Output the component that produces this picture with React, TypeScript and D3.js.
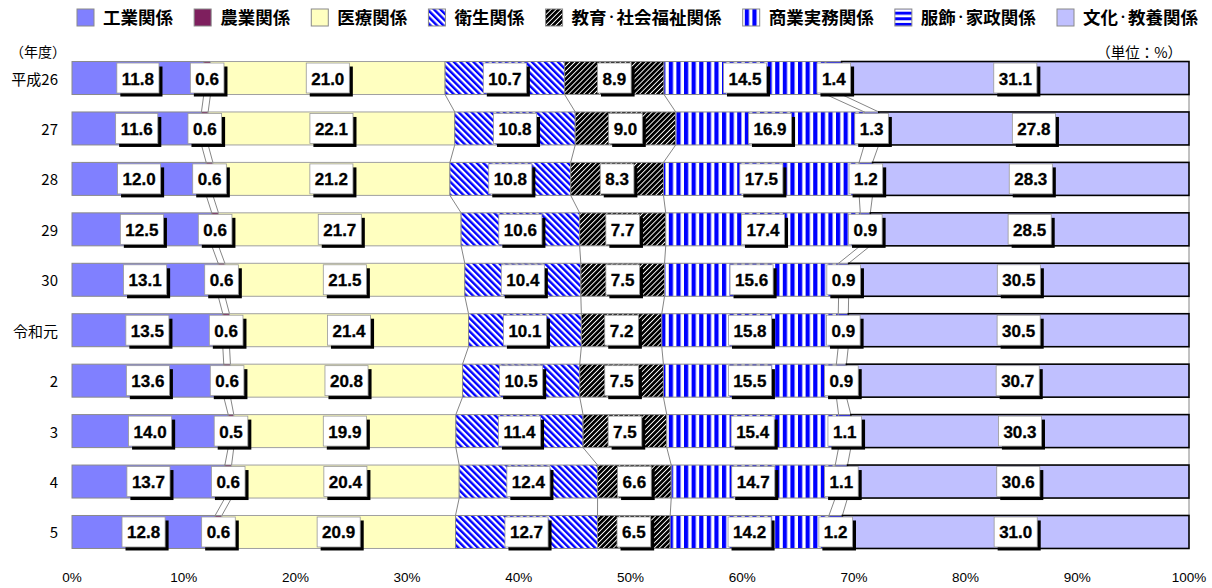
import React from 'react';
import * as d3 from 'd3';

const categories = ['平成26', '27', '28', '29', '30', '令和元', '2', '3', '4', '5'];
const seriesNames = ['工業関係', '農業関係', '医療関係', '衛生関係', '教育・社会福祉関係', '商業実務関係', '服飾・家政関係', '文化・教養関係'];
const kogyo = [11.8, 11.6, 12.0, 12.5, 13.1, 13.5, 13.6, 14.0, 13.7, 12.8];
const nogyo = [0.6, 0.6, 0.6, 0.6, 0.6, 0.6, 0.6, 0.5, 0.6, 0.6];
const iryo = [21.0, 22.1, 21.2, 21.7, 21.5, 21.4, 20.8, 19.9, 20.4, 20.9];
const eisei = [10.7, 10.8, 10.8, 10.6, 10.4, 10.1, 10.5, 11.4, 12.4, 12.7];
const kyoiku = [8.9, 9.0, 8.3, 7.7, 7.5, 7.2, 7.5, 7.5, 6.6, 6.5];
const shogyo = [14.5, 16.9, 17.5, 17.4, 15.6, 15.8, 15.5, 15.4, 14.7, 14.2];
const fukushoku = [1.4, 1.3, 1.2, 0.9, 0.9, 0.9, 0.9, 1.1, 1.1, 1.2];
const bunka = [31.1, 27.8, 28.3, 28.5, 30.5, 30.5, 30.7, 30.3, 30.6, 31.0];
const xTicks = [0, 10, 20, 30, 40, 50, 60, 70, 80, 90, 100];

const seriesValues = [kogyo, nogyo, iryo, eisei, kyoiku, shogyo, fukushoku, bunka];

// styles
const fills = ['#8080FF', '#7E1F5E', '#FFFFC0', 'url(#pDiagBlue)', 'url(#pDiagBlack)', 'url(#pVert)', 'url(#pHoriz)', '#C0C0FF'];
const strokes = ['#8a8a8a', '#8a8a8a', '#a0a0a0', '#8a8a8a', '#8a8a8a', '#8a8a8a', '#8a8a8a', '#000000'];
const strokeW = [1, 1, 1, 1, 1, 1, 1, 1.6];

const W = 1212;
const H = 588;
const LABEL_FONT = 'bold 17px "Liberation Sans", Arial, sans-serif';
const LEGEND_SIZE = 17.5;
const LEGEND_FONT = `bold ${LEGEND_SIZE}px "Noto Sans CJK JP", sans-serif`;
const DOT_SIZE = 10;
const DOT_FONT = `bold ${DOT_SIZE}px "Noto Sans CJK JP", sans-serif`;
const DOT_DY = -2.8;

let ctx: CanvasRenderingContext2D | null = null;
function measure(text: string, font: string): number {
  if (!ctx) ctx = document.createElement('canvas').getContext('2d');
  if (!ctx) return text.length * 9;
  ctx.font = font;
  return ctx.measureText(text).width;
}

function legendWidth(s: string) {
  const parts = s.split('・');
  let w = 0;
  parts.forEach((p, i) => {
    if (i > 0) w += measure('・', DOT_FONT);
    w += measure(p, LEGEND_FONT);
  });
  return w;
}

function legendText(s: string) {
  const parts = s.split('・');
  const out: React.ReactNode[] = [];
  parts.forEach((p, i) => {
    if (i > 0) {
      out.push(
        <tspan key={'d' + i} dy={DOT_DY} style={{ font: DOT_FONT }}>
          ・
        </tspan>
      );
      out.push(
        <tspan key={'p' + i} dy={-DOT_DY}>
          {p}
        </tspan>
      );
    } else {
      out.push(<tspan key={'p' + i}>{p}</tspan>);
    }
  });
  return out;
}

export default function App() {
  const rows = categories.map((c, i) => {
    const o: any = { cat: c };
    seriesNames.forEach((s, k) => (o[s] = seriesValues[k][i]));
    return o;
  });
  const stacked = d3.stack<any>().keys(seriesNames).offset(d3.stackOffsetExpand)(rows);

  const x = d3.scaleLinear().domain([0, 1]).range([72, 1189]);
  const y = d3.scaleBand<string>().domain(categories).range([52.8, 557.2]).paddingInner(0.346).paddingOuter(0.173);
  const bw = y.bandwidth();

  // legend layout
  const sq = 17;
  const sqGap = 9;
  const textWs = seriesNames.map((s) => legendWidth(s));
  const legStart = 77;
  const legEnd = 1198;
  const fixed = textWs.reduce((a, b) => a + b, 0) + seriesNames.length * (sq + sqGap);
  const itemGap = (legEnd - legStart - fixed) / (seriesNames.length - 1);
  const legPos: number[] = [];
  let cur = legStart;
  seriesNames.forEach((s, k) => {
    legPos.push(cur);
    cur += sq + sqGap + textWs[k] + itemGap;
  });

  const boundaries: { x1: number; y1: number; x2: number; y2: number }[] = [];
  for (let i = 0; i < categories.length - 1; i++) {
    stacked.forEach((layer) => {
      const a = layer[i][1];
      const b = layer[i + 1][1];
      boundaries.push({
        x1: x(a),
        y1: (y(categories[i]) as number) + bw,
        x2: x(b),
        y2: y(categories[i + 1]) as number,
      });
    });
  }

  return (
    <svg width={W} height={H} style={{ position: 'absolute', left: 0, top: 0, background: '#fff' }}>
      <defs>
        <pattern id="pDiagBlue" patternUnits="userSpaceOnUse" width={4.6} height={4.6} patternTransform="rotate(-45)">
          <rect width={4.6} height={4.6} fill="#fff" />
          <rect width={2.4} height={4.6} fill="#0000FF" />
        </pattern>
        <pattern id="pDiagBlack" patternUnits="userSpaceOnUse" width={3.6} height={3.6} patternTransform="rotate(45)">
          <rect width={3.6} height={3.6} fill="#000" />
          <rect width={0.9} height={3.6} fill="#fff" />
        </pattern>
        <pattern id="pVert" patternUnits="userSpaceOnUse" width={7.6} height={8}>
          <rect width={7.6} height={8} fill="#fff" />
          <rect width={4.2} height={8} fill="#0000FF" />
        </pattern>
        <pattern id="pHoriz" patternUnits="userSpaceOnUse" width={8} height={5.6} y={0.5}>
          <rect width={8} height={5.6} fill="#fff" />
          <rect width={8} height={3} fill="#0000FF" />
        </pattern>
      </defs>

      {/* legend */}
      {seriesNames.map((s, k) => (
        <g key={s}>
          <rect x={legPos[k]} y={9} width={sq} height={sq} fill={fills[k]} stroke="#8a8a8a" strokeWidth={1} />
          <text x={legPos[k] + sq + sqGap} y={24} style={{ font: LEGEND_FONT }} fill="#000">
            {legendText(s)}
          </text>
        </g>
      ))}

      <text x={10} y={51} dominantBaseline="central" style={{ font: '14px "Noto Sans CJK JP", sans-serif' }}>
        （年度）
      </text>
      <text x={1182} y={51} textAnchor="end" dominantBaseline="central" style={{ font: '14.5px "Noto Sans CJK JP", sans-serif' }}>
        （単位：%）
      </text>

      {/* series lines */}
      {boundaries.map((b, i) => (
        <line key={i} x1={b.x1} y1={b.y1} x2={b.x2} y2={b.y2} stroke="#666" strokeWidth={0.8} />
      ))}

      {/* bars */}
      {stacked.map((layer, k) => (
        <g key={layer.key}>
          {layer.map((d, i) => (
            <rect
              key={i}
              x={x(d[0])}
              y={y(categories[i])}
              width={x(d[1]) - x(d[0])}
              height={bw}
              fill={fills[k]}
              stroke={strokes[k]}
              strokeWidth={strokeW[k]}
            />
          ))}
        </g>
      ))}

      {/* value labels */}
      {stacked.map((layer, k) => (
        <g key={'l' + layer.key}>
          {layer.map((d, i) => {
            const v = seriesValues[k][i].toFixed(1);
            const tw = measure(v, LABEL_FONT);
            const bxW = tw + 10;
            const bxH = 30;
            const cx = (x(d[0]) + x(d[1])) / 2;
            const cy = (y(categories[i]) as number) + bw / 2;
            return (
              <g key={i}>
                <rect x={cx - bxW / 2 + 3.5} y={cy - bxH / 2 + 3.5} width={bxW} height={bxH} fill="#000" />
                <rect x={cx - bxW / 2} y={cy - bxH / 2} width={bxW} height={bxH} fill="#fff" stroke="#999" strokeWidth={0.8} />
                <text
                  x={cx}
                  y={cy + 1}
                  textAnchor="middle"
                  dominantBaseline="central"
                  style={{ font: LABEL_FONT }}
                  fill="#000"
                  stroke="#000"
                  strokeWidth={0.3}
                >
                  {v}
                </text>
              </g>
            );
          })}
        </g>
      ))}

      {/* category labels */}
      {categories.map((c) => (
        <text
          key={c}
          x={58}
          y={(y(c) as number) + bw / 2}
          textAnchor="end"
          dominantBaseline="central"
          style={{ font: '15px "Noto Sans CJK JP", sans-serif' }}
        >
          {c}
        </text>
      ))}

      {/* x tick labels */}
      {xTicks.map((t) => (
        <text
          key={t}
          x={x(t / 100)}
          y={577}
          textAnchor="middle"
          dominantBaseline="central"
          style={{ font: '13.5px "Liberation Sans", Arial, sans-serif' }}
        >
          {t}%
        </text>
      ))}
    </svg>
  );
}
